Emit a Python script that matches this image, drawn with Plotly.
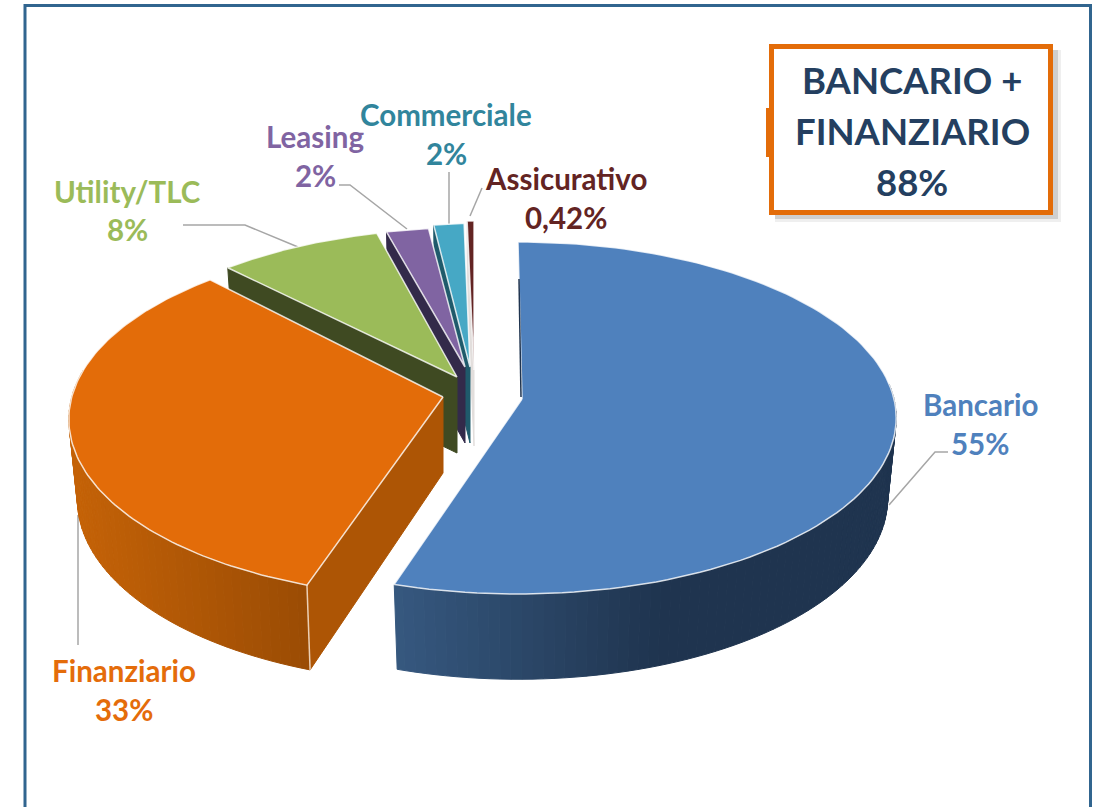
import numpy as np
import plotly.graph_objects as go

# ---- data ----
categories = ["Bancario", "Finanziario", "Utility/TLC", "Leasing", "Commerciale", "Assicurativo"]
values = [55, 33, 8, 2, 2, 0.42]
value_labels = ["55%", "33%", "8%", "2%", "2%", "0,42%"]
box_lines = ["BANCARIO +", "FINANZIARIO", "88%"]

# ---- styling ----
top_colors = ["#4F81BD", "#E36C09", "#9BBB59", "#8064A2", "#46A8C5", "#632423"]
text_colors = ["#4F81BD", "#E46C0A", "#9BBB59", "#8064A2", "#31859C", "#632423"]
face_colors = [None, "#AD5505", "#3F4A22", "#332A4A", "#1F5A6B", "#E2DEDC"]
# apex x, apex y, arc centre dx, arc centre dy, radius x, radius y, rotation (deg)
geom = [
    (522, 399, -4, 0, 376, 174, 0.0),
    (443, 397, 0, 3, 372, 176, 2.0),
    (457, 377, 11, 0, 369, 165, 0.0),
    (465, 367, 15, 0, 378, 155, 0.0),
    (470, 367, 0.5, 0, 270, 159, 0.0),
    (474, 370, 0, 0, 290, 165, 0.0),
]
label_pos = [(980, 404, 443), (124, 670, 709), (127, 191, 229), (315, 136, 175), (446, 114, 153), (566, 178, 217)]
leaders = [
    ([889, 935, 948], [505, 452, 452]),
    ([78, 78], [515, 645]),
    ([298, 245, 183], [247, 225, 225]),
    ([407, 350, 339], [229, 185, 185]),
    ([449, 449], [224, 172]),
    ([470, 482], [216, 188]),
]
P = 0.108
DEPTH = 80.0
SHRINK = 0.977
FONT = "Lato, Carlito, Calibri, sans-serif"

edges = np.concatenate([[0], np.cumsum(values)]) / np.sum(values) * 360.0


def project(i, theta):
    ax, ay, dx, dy, rx, ry, rot = geom[i]
    t = np.radians(np.asarray(theta, dtype=float) + rot)
    X, Y = np.sin(t), np.cos(t)
    d = 1 + P * Y
    return ax + dx + rx * X / d, ay + dy - ry * Y / d


def project_bottom(i, theta):
    ax, ay, dx, dy, rx, ry, rot = geom[i]
    t = np.radians(np.asarray(theta, dtype=float) + rot)
    Y = np.cos(t)
    x, y = project(i, theta)
    return ax + (x - ax) * SHRINK, ay + (y - ay) * SHRINK + DEPTH / (1 + P * Y)


def lerp_color(c0, c1, u):
    u = float(np.clip(u, 0, 1))
    a = [int(c0[k:k + 2], 16) for k in (1, 3, 5)]
    b = [int(c1[k:k + 2], 16) for k in (1, 3, 5)]
    return "rgb(%d,%d,%d)" % tuple(round(p + (q - p) * u) for p, q in zip(a, b))


fig = go.Figure()


def poly(x, y, fill, line=None, width=1.0):
    fig.add_trace(go.Scatter(x=list(x), y=list(y), mode="lines", fill="toself", fillcolor=fill,
                             line=dict(color=line or fill, width=width), hoverinfo="skip", showlegend=False))


def wall(i, c0, c1, x0, x1):
    a0 = max(edges[i], 85.0)
    a1 = min(edges[i + 1], 278.0)
    grid = np.arange(a0, a1, 1.5)
    grid = np.append(grid, a1)
    for p, q in zip(grid[:-1], grid[1:]):
        xa, ya = project(i, [p, q])
        xb, yb = project_bottom(i, [q, p])
        xs = np.concatenate([xa, xb, xa[:1]])
        ys = np.concatenate([ya, yb, ya[:1]])
        poly(xs, ys, lerp_color(c0, c1, (xs.mean() - x0) / (x1 - x0)))


def start_face(i):
    ax, ay = geom[i][:2]
    tx, ty = project(i, edges[i])
    bx, by = project_bottom(i, edges[i])
    d = DEPTH * 0.95
    poly([tx, ax, ax, bx, tx], [ty, ay, ay + d, by, ty], face_colors[i])


def top(i):
    th = np.linspace(edges[i], edges[i + 1], 120)
    x, y = project(i, th)
    ax, ay = geom[i][:2]
    poly(np.concatenate([[ax], x, [ax]]), np.concatenate([[ay], y, [ay]]), top_colors[i],
         line="rgba(255,255,255,0.8)", width=1.5)


# leader lines behind the pie
for lx, ly in leaders:
    fig.add_trace(go.Scatter(x=lx, y=ly, mode="lines", line=dict(color="#A6A6A6", width=1.5),
                             hoverinfo="skip", showlegend=False))

# back to front
for i in (5, 4, 3, 2):
    start_face(i)
    top(i)

start_face(1)
wall(1, "#C46207", "#9B4C04", 78, 305)
top(1)
bx0, by0 = project_bottom(1, edges[1])
tx0, ty0 = project(1, edges[1])
fig.add_trace(go.Scatter(x=[tx0, bx0], y=[ty0, by0], mode="lines",
                         line=dict(color="rgba(255,240,225,0.8)", width=1.5),
                         hoverinfo="skip", showlegend=False))

wall(0, "#36587F", "#1F344F", 397, 660)
top(0)
# thin sliver of Bancario's rear cut face
sx, sy = project(0, edges[0])
fig.add_trace(go.Scatter(x=[sx + 1, geom[0][0] - 1], y=[sy + 37, geom[0][1] - 2], mode="lines",
                         line=dict(color="#1F344F", width=1.5), hoverinfo="skip", showlegend=False))

# frame and callout box
shapes = [
    dict(type="path", path="M 25 830 L 25 5.5 L 1090.5 5.5 L 1090.5 830", line=dict(color="#31658F", width=3)),
    dict(type="rect", x0=775, y0=50, x1=1061, y1=222, fillcolor="#EFEFEF", line=dict(width=0)),
    dict(type="rect", x0=775, y0=50, x1=1058, y1=219, fillcolor="#CFCFCF", line=dict(width=0)),
    dict(type="rect", x0=766, y0=108, x1=772, y1=157, fillcolor="#E36C09", line=dict(width=0)),
    dict(type="rect", x0=771.5, y0=46.5, x1=1050.5, y1=212.5, fillcolor="white",
         line=dict(color="#E36C09", width=5)),
]

annotations = []
for i, (name, lab) in enumerate(zip(categories, value_labels)):
    cx, y1, y2 = label_pos[i]
    for txt, yy in ((name, y1), (lab, y2)):
        annotations.append(dict(x=cx, y=yy, xref="x", yref="y", text="<b>%s</b>" % txt, showarrow=False,
                                xanchor="center", yanchor="middle",
                                font=dict(family=FONT, size=29.5, color=text_colors[i])))
for txt, yy in zip(box_lines, (80, 131, 182)):
    annotations.append(dict(x=912, y=yy, xref="x", yref="y", text="<b>%s</b>" % txt, showarrow=False,
                            xanchor="center", yanchor="middle",
                            font=dict(family=FONT, size=36.5, color="#243F60")))

fig.update_layout(
    width=1102, height=807, margin=dict(l=0, r=0, t=0, b=0),
    paper_bgcolor="white", plot_bgcolor="white", showlegend=False,
    xaxis=dict(range=[0, 1102], visible=False, fixedrange=True),
    yaxis=dict(range=[807, 0], visible=False, fixedrange=True),
    shapes=shapes, annotations=annotations,
)
fig.write_html("out.html", config={"displayModeBar": False},
               post_script="document.body.style.margin='0';document.body.style.overflow='hidden';")
